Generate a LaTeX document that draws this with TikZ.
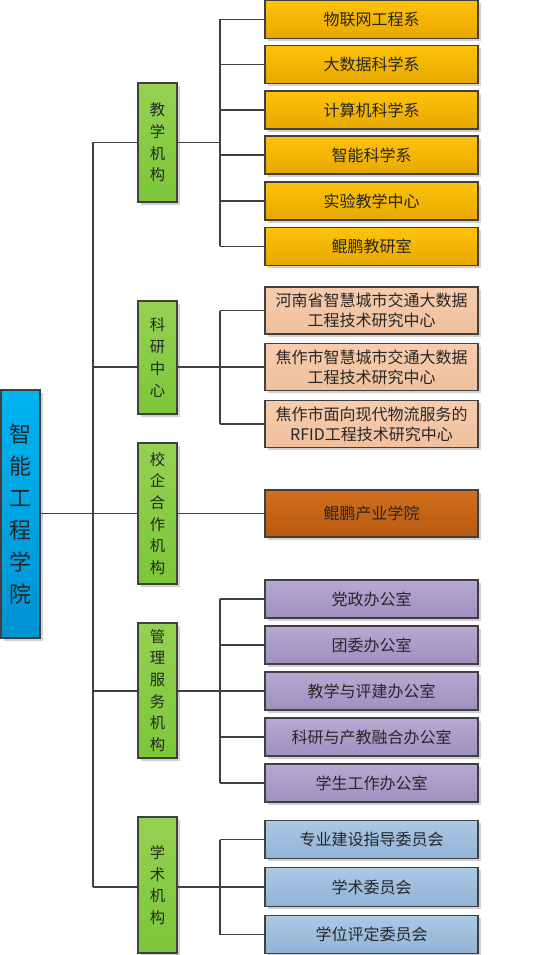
\documentclass[tikz,border=0pt]{standalone}
\usepackage{fontspec}
\setmainfont{Noto Sans CJK SC}
\usetikzlibrary{shadows}
\definecolor{bordc}{HTML}{404040}
\definecolor{txtc}{HTML}{262626}
\definecolor{rootT}{HTML}{00B4F2}
\definecolor{rootB}{HTML}{0093D2}
\definecolor{grnT}{HTML}{94D252}
\definecolor{grnB}{HTML}{7CC63A}
\definecolor{gldT}{HTML}{FFC20A}
\definecolor{gldB}{HTML}{E6A800}
\definecolor{pchT}{HTML}{F8CCAE}
\definecolor{pchB}{HTML}{F0C09C}
\definecolor{brnT}{HTML}{D26E1E}
\definecolor{brnB}{HTML}{B85A12}
\definecolor{purT}{HTML}{B6A9D2}
\definecolor{purB}{HTML}{9F90C0}
\definecolor{bluT}{HTML}{ABC8E5}
\definecolor{bluB}{HTML}{92B3D6}
\begin{document}
\begin{tikzpicture}[x=0.75pt,y=-0.75pt,
  wh/.style 2 args={minimum width=#1*0.75pt, minimum height=#2*0.75pt},
  box/.style={draw=bordc, line width=0.9pt, inner sep=0pt, align=center, text=txtc,
    font=\fontsize{12}{15}\selectfont,
    drop shadow={shadow xshift=2pt, shadow yshift=-2pt, opacity=0.3, fill=black!60}},
  rootbox/.style={box, wh={39}{248}, top color=rootT, bottom color=rootB, font=\fontsize{16.5}{24}\selectfont},
  grnbox/.style={box, minimum width=39*0.75pt, top color=grnT, bottom color=grnB, font=\fontsize{11.5}{16.3}\selectfont},
  gldbox/.style={box, wh={213}{38}, top color=gldT, bottom color=gldB},
  pchbox/.style={box, wh={213}{47}, top color=pchT, bottom color=pchB},
  brnbox/.style={box, wh={213}{47}, top color=brnT, bottom color=brnB},
  purbox/.style={box, wh={213}{38}, top color=purT, bottom color=purB},
  blubox/.style={box, wh={213}{38.5}, top color=bluT, bottom color=bluB},
  conn/.style={draw=bordc, line width=0.8pt}
]
\useasboundingbox (0,0) rectangle (540,955);
\coordinate (tx) at (93,0);
\coordinate (bx) at (220,0);

% root
\node[rootbox] (root) at (20.5,514) {智\\能\\工\\程\\学\\院};

% level 2
\node[grnbox, minimum height=119*0.75pt] (g1) at (157.5,142.5) {教\\学\\机\\构};
\node[grnbox, minimum height=113*0.75pt] (g2) at (157.5,357.5) {科\\研\\中\\心};
\node[grnbox, minimum height=141*0.75pt] (g3) at (157.5,513.5) {校\\企\\合\\作\\机\\构};
\node[grnbox, minimum height=135*0.75pt] (g4) at (157.5,690.5) {管\\理\\服\\务\\机\\构};
\node[grnbox, minimum height=136*0.75pt] (g5) at (157.5,885) {学\\术\\机\\构};

% level 3
\node[gldbox] (t1) at (371.5,19.5) {物联网工程系};
\node[gldbox] (t2) at (371.5,64.5) {大数据科学系};
\node[gldbox] (t3) at (371.5,110) {计算机科学系};
\node[gldbox] (t4) at (371.5,155) {智能科学系};
\node[gldbox] (t5) at (371.5,201) {实验教学中心};
\node[gldbox] (t6) at (371.5,246.5) {鲲鹏教研室};

\node[pchbox] (r1) at (371.5,310.5) {河南省智慧城市交通大数据\\工程技术研究中心};
\node[pchbox] (r2) at (371.5,367) {焦作市智慧城市交通大数据\\工程技术研究中心};
\node[pchbox] (r3) at (371.5,424) {焦作市面向现代物流服务的\\RFID工程技术研究中心};

\node[brnbox] (c1) at (371.5,513.5) {鲲鹏产业学院};

\node[purbox] (m1) at (371.5,599) {党政办公室};
\node[purbox] (m2) at (371.5,645) {团委办公室};
\node[purbox] (m3) at (371.5,691) {教学与评建办公室};
\node[purbox] (m4) at (371.5,737) {科研与产教融合办公室};
\node[purbox] (m5) at (371.5,783) {学生工作办公室};

\node[blubox] (a1) at (371.5,839.5) {专业建设指导委员会};
\node[blubox] (a2) at (371.5,887) {学术委员会};
\node[blubox] (a3) at (371.5,934.5) {学位评定委员会};

% connectors
\draw[conn] (root.east |- c1.west) -- (tx |- c1.west);
\draw[conn] (tx |- g1.west) -- (tx |- a2.west);

\draw[conn] (tx |- g1.west) -- (g1.west);
\draw[conn] (g1.east) -- (bx |- g1.east);
\draw[conn] (bx |- t1.west) -- (bx |- t6.west);
\foreach \n in {t1,t2,t3,t4,t5,t6} \draw[conn] (bx |- \n.west) -- (\n.west);

\draw[conn] (tx |- r2.west) -- (g2.west |- r2.west);
\draw[conn] (g2.east |- r2.west) -- (bx |- r2.west);
\draw[conn] (bx |- r1.west) -- (bx |- r3.west);
\foreach \n in {r1,r2,r3} \draw[conn] (bx |- \n.west) -- (\n.west);

\draw[conn] (tx |- c1.west) -- (g3.west |- c1.west);
\draw[conn] (g3.east |- c1.west) -- (c1.west);

\draw[conn] (tx |- m3.west) -- (g4.west |- m3.west);
\draw[conn] (g4.east |- m3.west) -- (bx |- m3.west);
\draw[conn] (bx |- m1.west) -- (bx |- m5.west);
\foreach \n in {m1,m2,m3,m4,m5} \draw[conn] (bx |- \n.west) -- (\n.west);

\draw[conn] (tx |- a2.west) -- (g5.west |- a2.west);
\draw[conn] (g5.east |- a2.west) -- (bx |- a2.west);
\draw[conn] (bx |- a1.west) -- (bx |- a3.west);
\foreach \n in {a1,a2,a3} \draw[conn] (bx |- \n.west) -- (\n.west);
\end{tikzpicture}
\end{document}
